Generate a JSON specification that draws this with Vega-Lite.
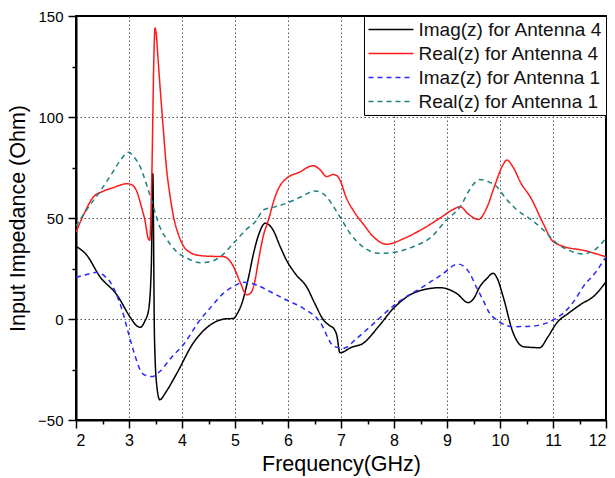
{
  "$schema": "https://vega.github.io/schema/vega-lite/v6.json",
  "width": 530,
  "height": 404,
  "autosize": "none",
  "padding": {"left": 76, "top": 16, "right": 9, "bottom": 58},
  "background": "white",
  "config": {
    "view": {"stroke": "black", "strokeWidth": 2},
    "font": "Liberation Sans",
    "axis": {
      "domainColor": "black",
      "domainWidth": 2,
      "tickColor": "black",
      "tickWidth": 1.5,
      "labelColor": "black",
      "titleColor": "black",
      "titleFontWeight": "normal",
      "labelFont": "Liberation Sans",
      "titleFont": "Liberation Sans",
      "gridColor": "#555555",
      "gridDash": [1.5, 2.5],
      "gridWidth": 1
    },
    "legend": {
      "orient": "top-right",
      "offset": 0,
      "strokeColor": "black",
      "fillColor": "white",
      "padding": 3.5,
      "labelFont": "Liberation Sans",
      "labelFontSize": 19,
      "labelLimit": 400,
      "labelColor": "#111111",
      "symbolStrokeWidth": 1.5,
      "rowPadding": 4,
      "title": null
    }
  },
  "data": {
    "values": [
      {"f": 2, "v": 36, "s": "Imag(z) for Antenna 4"},
      {"f": 2.2, "v": 31.7, "s": "Imag(z) for Antenna 4"},
      {"f": 2.45, "v": 21, "s": "Imag(z) for Antenna 4"},
      {"f": 2.77, "v": 12, "s": "Imag(z) for Antenna 4"},
      {"f": 3.02, "v": 1, "s": "Imag(z) for Antenna 4"},
      {"f": 3.13, "v": -3, "s": "Imag(z) for Antenna 4"},
      {"f": 3.21, "v": -4.1, "s": "Imag(z) for Antenna 4"},
      {"f": 3.3, "v": -1, "s": "Imag(z) for Antenna 4"},
      {"f": 3.37, "v": 4.5, "s": "Imag(z) for Antenna 4"},
      {"f": 3.42, "v": 25, "s": "Imag(z) for Antenna 4"},
      {"f": 3.45, "v": 72, "s": "Imag(z) for Antenna 4"},
      {"f": 3.48, "v": -8, "s": "Imag(z) for Antenna 4"},
      {"f": 3.52, "v": -32, "s": "Imag(z) for Antenna 4"},
      {"f": 3.58, "v": -40, "s": "Imag(z) for Antenna 4"},
      {"f": 3.7, "v": -36, "s": "Imag(z) for Antenna 4"},
      {"f": 3.9, "v": -27, "s": "Imag(z) for Antenna 4"},
      {"f": 4.21, "v": -12, "s": "Imag(z) for Antenna 4"},
      {"f": 4.59, "v": -2, "s": "Imag(z) for Antenna 4"},
      {"f": 4.8, "v": 0, "s": "Imag(z) for Antenna 4"},
      {"f": 4.97, "v": 0.3, "s": "Imag(z) for Antenna 4"},
      {"f": 5.05, "v": 3, "s": "Imag(z) for Antenna 4"},
      {"f": 5.13, "v": 7.8, "s": "Imag(z) for Antenna 4"},
      {"f": 5.25, "v": 20, "s": "Imag(z) for Antenna 4"},
      {"f": 5.35, "v": 32.5, "s": "Imag(z) for Antenna 4"},
      {"f": 5.45, "v": 42, "s": "Imag(z) for Antenna 4"},
      {"f": 5.57, "v": 47.4, "s": "Imag(z) for Antenna 4"},
      {"f": 5.72, "v": 44, "s": "Imag(z) for Antenna 4"},
      {"f": 5.85, "v": 36, "s": "Imag(z) for Antenna 4"},
      {"f": 5.97, "v": 29.2, "s": "Imag(z) for Antenna 4"},
      {"f": 6.15, "v": 22, "s": "Imag(z) for Antenna 4"},
      {"f": 6.35, "v": 16, "s": "Imag(z) for Antenna 4"},
      {"f": 6.5, "v": 8, "s": "Imag(z) for Antenna 4"},
      {"f": 6.67, "v": -0.5, "s": "Imag(z) for Antenna 4"},
      {"f": 6.8, "v": -3.5, "s": "Imag(z) for Antenna 4"},
      {"f": 6.86, "v": -4.6, "s": "Imag(z) for Antenna 4"},
      {"f": 6.92, "v": -8, "s": "Imag(z) for Antenna 4"},
      {"f": 6.98, "v": -16.7, "s": "Imag(z) for Antenna 4"},
      {"f": 7.2, "v": -14, "s": "Imag(z) for Antenna 4"},
      {"f": 7.42, "v": -12, "s": "Imag(z) for Antenna 4"},
      {"f": 7.7, "v": -4, "s": "Imag(z) for Antenna 4"},
      {"f": 7.99, "v": 5.3, "s": "Imag(z) for Antenna 4"},
      {"f": 8.43, "v": 13.5, "s": "Imag(z) for Antenna 4"},
      {"f": 8.87, "v": 15.5, "s": "Imag(z) for Antenna 4"},
      {"f": 9.18, "v": 12.7, "s": "Imag(z) for Antenna 4"},
      {"f": 9.4, "v": 8.1, "s": "Imag(z) for Antenna 4"},
      {"f": 9.5, "v": 10, "s": "Imag(z) for Antenna 4"},
      {"f": 9.62, "v": 16, "s": "Imag(z) for Antenna 4"},
      {"f": 9.75, "v": 20, "s": "Imag(z) for Antenna 4"},
      {"f": 9.87, "v": 22.6, "s": "Imag(z) for Antenna 4"},
      {"f": 9.95, "v": 20, "s": "Imag(z) for Antenna 4"},
      {"f": 10.06, "v": 11, "s": "Imag(z) for Antenna 4"},
      {"f": 10.25, "v": -7, "s": "Imag(z) for Antenna 4"},
      {"f": 10.44, "v": -13.7, "s": "Imag(z) for Antenna 4"},
      {"f": 10.75, "v": -14.2, "s": "Imag(z) for Antenna 4"},
      {"f": 10.9, "v": -9, "s": "Imag(z) for Antenna 4"},
      {"f": 11.07, "v": -2, "s": "Imag(z) for Antenna 4"},
      {"f": 11.3, "v": 3, "s": "Imag(z) for Antenna 4"},
      {"f": 11.51, "v": 7, "s": "Imag(z) for Antenna 4"},
      {"f": 11.8, "v": 12, "s": "Imag(z) for Antenna 4"},
      {"f": 12, "v": 18.5, "s": "Imag(z) for Antenna 4"},

      {"f": 2, "v": 43, "s": "Real(z) for Antenna 4"},
      {"f": 2.15, "v": 52, "s": "Real(z) for Antenna 4"},
      {"f": 2.33, "v": 60.5, "s": "Real(z) for Antenna 4"},
      {"f": 2.49, "v": 63, "s": "Real(z) for Antenna 4"},
      {"f": 2.7, "v": 65, "s": "Real(z) for Antenna 4"},
      {"f": 2.96, "v": 67, "s": "Real(z) for Antenna 4"},
      {"f": 3.05, "v": 66.5, "s": "Real(z) for Antenna 4"},
      {"f": 3.15, "v": 63, "s": "Real(z) for Antenna 4"},
      {"f": 3.25, "v": 54, "s": "Real(z) for Antenna 4"},
      {"f": 3.3, "v": 49, "s": "Real(z) for Antenna 4"},
      {"f": 3.36, "v": 40, "s": "Real(z) for Antenna 4"},
      {"f": 3.39, "v": 39, "s": "Real(z) for Antenna 4"},
      {"f": 3.43, "v": 70, "s": "Real(z) for Antenna 4"},
      {"f": 3.47, "v": 130, "s": "Real(z) for Antenna 4"},
      {"f": 3.49, "v": 144, "s": "Real(z) for Antenna 4"},
      {"f": 3.51, "v": 142, "s": "Real(z) for Antenna 4"},
      {"f": 3.55, "v": 128, "s": "Real(z) for Antenna 4"},
      {"f": 3.6, "v": 110, "s": "Real(z) for Antenna 4"},
      {"f": 3.65, "v": 93, "s": "Real(z) for Antenna 4"},
      {"f": 3.71, "v": 74, "s": "Real(z) for Antenna 4"},
      {"f": 3.78, "v": 60, "s": "Real(z) for Antenna 4"},
      {"f": 3.84, "v": 50.6, "s": "Real(z) for Antenna 4"},
      {"f": 3.93, "v": 42, "s": "Real(z) for Antenna 4"},
      {"f": 4.03, "v": 36, "s": "Real(z) for Antenna 4"},
      {"f": 4.15, "v": 33, "s": "Real(z) for Antenna 4"},
      {"f": 4.34, "v": 31.4, "s": "Real(z) for Antenna 4"},
      {"f": 4.6, "v": 31, "s": "Real(z) for Antenna 4"},
      {"f": 4.78, "v": 30.9, "s": "Real(z) for Antenna 4"},
      {"f": 4.88, "v": 29.5, "s": "Real(z) for Antenna 4"},
      {"f": 4.97, "v": 26, "s": "Real(z) for Antenna 4"},
      {"f": 5.1, "v": 18, "s": "Real(z) for Antenna 4"},
      {"f": 5.22, "v": 12, "s": "Real(z) for Antenna 4"},
      {"f": 5.3, "v": 13, "s": "Real(z) for Antenna 4"},
      {"f": 5.36, "v": 17, "s": "Real(z) for Antenna 4"},
      {"f": 5.45, "v": 30, "s": "Real(z) for Antenna 4"},
      {"f": 5.53, "v": 40.7, "s": "Real(z) for Antenna 4"},
      {"f": 5.63, "v": 49, "s": "Real(z) for Antenna 4"},
      {"f": 5.75, "v": 60, "s": "Real(z) for Antenna 4"},
      {"f": 5.85, "v": 66, "s": "Real(z) for Antenna 4"},
      {"f": 5.97, "v": 69.6, "s": "Real(z) for Antenna 4"},
      {"f": 6.2, "v": 72.5, "s": "Real(z) for Antenna 4"},
      {"f": 6.48, "v": 75.9, "s": "Real(z) for Antenna 4"},
      {"f": 6.6, "v": 74, "s": "Real(z) for Antenna 4"},
      {"f": 6.73, "v": 70.5, "s": "Real(z) for Antenna 4"},
      {"f": 6.85, "v": 71.5, "s": "Real(z) for Antenna 4"},
      {"f": 6.92, "v": 71, "s": "Real(z) for Antenna 4"},
      {"f": 6.98, "v": 68.8, "s": "Real(z) for Antenna 4"},
      {"f": 7.1, "v": 60, "s": "Real(z) for Antenna 4"},
      {"f": 7.25, "v": 53, "s": "Real(z) for Antenna 4"},
      {"f": 7.42, "v": 47, "s": "Real(z) for Antenna 4"},
      {"f": 7.6, "v": 41, "s": "Real(z) for Antenna 4"},
      {"f": 7.86, "v": 37, "s": "Real(z) for Antenna 4"},
      {"f": 8.2, "v": 40, "s": "Real(z) for Antenna 4"},
      {"f": 8.5, "v": 44, "s": "Real(z) for Antenna 4"},
      {"f": 8.87, "v": 50, "s": "Real(z) for Antenna 4"},
      {"f": 9.1, "v": 54, "s": "Real(z) for Antenna 4"},
      {"f": 9.25, "v": 55.6, "s": "Real(z) for Antenna 4"},
      {"f": 9.4, "v": 52, "s": "Real(z) for Antenna 4"},
      {"f": 9.59, "v": 49.3, "s": "Real(z) for Antenna 4"},
      {"f": 9.75, "v": 55, "s": "Real(z) for Antenna 4"},
      {"f": 9.9, "v": 66, "s": "Real(z) for Antenna 4"},
      {"f": 10.05, "v": 76, "s": "Real(z) for Antenna 4"},
      {"f": 10.13, "v": 78.7, "s": "Real(z) for Antenna 4"},
      {"f": 10.25, "v": 75, "s": "Real(z) for Antenna 4"},
      {"f": 10.4, "v": 67, "s": "Real(z) for Antenna 4"},
      {"f": 10.57, "v": 60.5, "s": "Real(z) for Antenna 4"},
      {"f": 10.82, "v": 47, "s": "Real(z) for Antenna 4"},
      {"f": 10.98, "v": 39, "s": "Real(z) for Antenna 4"},
      {"f": 11.19, "v": 36, "s": "Real(z) for Antenna 4"},
      {"f": 11.57, "v": 34, "s": "Real(z) for Antenna 4"},
      {"f": 12, "v": 30.8, "s": "Real(z) for Antenna 4"},

      {"f": 2, "v": 20.6, "s": "Imaz(z) for Antenna 1"},
      {"f": 2.2, "v": 22, "s": "Imaz(z) for Antenna 1"},
      {"f": 2.39, "v": 23.1, "s": "Imaz(z) for Antenna 1"},
      {"f": 2.55, "v": 21, "s": "Imaz(z) for Antenna 1"},
      {"f": 2.64, "v": 18.5, "s": "Imaz(z) for Antenna 1"},
      {"f": 2.75, "v": 13, "s": "Imaz(z) for Antenna 1"},
      {"f": 2.86, "v": 5.3, "s": "Imaz(z) for Antenna 1"},
      {"f": 2.99, "v": -7.1, "s": "Imaz(z) for Antenna 1"},
      {"f": 3.1, "v": -17, "s": "Imaz(z) for Antenna 1"},
      {"f": 3.21, "v": -25.2, "s": "Imaz(z) for Antenna 1"},
      {"f": 3.32, "v": -28, "s": "Imaz(z) for Antenna 1"},
      {"f": 3.43, "v": -28.5, "s": "Imaz(z) for Antenna 1"},
      {"f": 3.58, "v": -26, "s": "Imaz(z) for Antenna 1"},
      {"f": 3.8, "v": -19, "s": "Imaz(z) for Antenna 1"},
      {"f": 4.02, "v": -12.9, "s": "Imaz(z) for Antenna 1"},
      {"f": 4.34, "v": -0.5, "s": "Imaz(z) for Antenna 1"},
      {"f": 4.55, "v": 6, "s": "Imaz(z) for Antenna 1"},
      {"f": 4.78, "v": 12.7, "s": "Imaz(z) for Antenna 1"},
      {"f": 5.0, "v": 16.5, "s": "Imaz(z) for Antenna 1"},
      {"f": 5.16, "v": 18.2, "s": "Imaz(z) for Antenna 1"},
      {"f": 5.41, "v": 16.8, "s": "Imaz(z) for Antenna 1"},
      {"f": 5.7, "v": 13, "s": "Imaz(z) for Antenna 1"},
      {"f": 5.97, "v": 9.4, "s": "Imaz(z) for Antenna 1"},
      {"f": 6.29, "v": 5.3, "s": "Imaz(z) for Antenna 1"},
      {"f": 6.6, "v": -1.3, "s": "Imaz(z) for Antenna 1"},
      {"f": 6.86, "v": -13.4, "s": "Imaz(z) for Antenna 1"},
      {"f": 7.04, "v": -14.5, "s": "Imaz(z) for Antenna 1"},
      {"f": 7.3, "v": -9.5, "s": "Imaz(z) for Antenna 1"},
      {"f": 7.55, "v": -3.8, "s": "Imaz(z) for Antenna 1"},
      {"f": 8.05, "v": 7.8, "s": "Imaz(z) for Antenna 1"},
      {"f": 8.55, "v": 16, "s": "Imaz(z) for Antenna 1"},
      {"f": 8.9, "v": 22, "s": "Imaz(z) for Antenna 1"},
      {"f": 9.21, "v": 27.2, "s": "Imaz(z) for Antenna 1"},
      {"f": 9.32, "v": 26, "s": "Imaz(z) for Antenna 1"},
      {"f": 9.43, "v": 22.6, "s": "Imaz(z) for Antenna 1"},
      {"f": 9.55, "v": 16, "s": "Imaz(z) for Antenna 1"},
      {"f": 9.68, "v": 9.4, "s": "Imaz(z) for Antenna 1"},
      {"f": 9.8, "v": 3, "s": "Imaz(z) for Antenna 1"},
      {"f": 9.94, "v": -0.5, "s": "Imaz(z) for Antenna 1"},
      {"f": 10.25, "v": -3.8, "s": "Imaz(z) for Antenna 1"},
      {"f": 10.5, "v": -3.7, "s": "Imaz(z) for Antenna 1"},
      {"f": 10.82, "v": -2.5, "s": "Imaz(z) for Antenna 1"},
      {"f": 11.0, "v": -0.5, "s": "Imaz(z) for Antenna 1"},
      {"f": 11.19, "v": 2.8, "s": "Imaz(z) for Antenna 1"},
      {"f": 11.4, "v": 9, "s": "Imaz(z) for Antenna 1"},
      {"f": 11.57, "v": 16, "s": "Imaz(z) for Antenna 1"},
      {"f": 11.8, "v": 23, "s": "Imaz(z) for Antenna 1"},
      {"f": 12, "v": 30.8, "s": "Imaz(z) for Antenna 1"},

      {"f": 2, "v": 46, "s": "Real(z) for Antenna 1"},
      {"f": 2.2, "v": 54, "s": "Real(z) for Antenna 1"},
      {"f": 2.45, "v": 63, "s": "Real(z) for Antenna 1"},
      {"f": 2.7, "v": 73, "s": "Real(z) for Antenna 1"},
      {"f": 2.85, "v": 79, "s": "Real(z) for Antenna 1"},
      {"f": 2.99, "v": 82.5, "s": "Real(z) for Antenna 1"},
      {"f": 3.1, "v": 80, "s": "Real(z) for Antenna 1"},
      {"f": 3.21, "v": 75.4, "s": "Real(z) for Antenna 1"},
      {"f": 3.35, "v": 65, "s": "Real(z) for Antenna 1"},
      {"f": 3.46, "v": 55.6, "s": "Real(z) for Antenna 1"},
      {"f": 3.58, "v": 45.7, "s": "Real(z) for Antenna 1"},
      {"f": 3.7, "v": 40, "s": "Real(z) for Antenna 1"},
      {"f": 3.9, "v": 33.3, "s": "Real(z) for Antenna 1"},
      {"f": 4.1, "v": 30, "s": "Real(z) for Antenna 1"},
      {"f": 4.34, "v": 27.9, "s": "Real(z) for Antenna 1"},
      {"f": 4.55, "v": 28.5, "s": "Real(z) for Antenna 1"},
      {"f": 4.72, "v": 30.8, "s": "Real(z) for Antenna 1"},
      {"f": 5.0, "v": 38.3, "s": "Real(z) for Antenna 1"},
      {"f": 5.2, "v": 44, "s": "Real(z) for Antenna 1"},
      {"f": 5.41, "v": 49, "s": "Real(z) for Antenna 1"},
      {"f": 5.53, "v": 54, "s": "Real(z) for Antenna 1"},
      {"f": 5.75, "v": 55.5, "s": "Real(z) for Antenna 1"},
      {"f": 5.97, "v": 57.3, "s": "Real(z) for Antenna 1"},
      {"f": 6.25, "v": 60.5, "s": "Real(z) for Antenna 1"},
      {"f": 6.51, "v": 63.4, "s": "Real(z) for Antenna 1"},
      {"f": 6.73, "v": 60.5, "s": "Real(z) for Antenna 1"},
      {"f": 6.85, "v": 56, "s": "Real(z) for Antenna 1"},
      {"f": 6.98, "v": 50.6, "s": "Real(z) for Antenna 1"},
      {"f": 7.17, "v": 42.4, "s": "Real(z) for Antenna 1"},
      {"f": 7.4, "v": 36, "s": "Real(z) for Antenna 1"},
      {"f": 7.74, "v": 32.5, "s": "Real(z) for Antenna 1"},
      {"f": 8.0, "v": 33, "s": "Real(z) for Antenna 1"},
      {"f": 8.36, "v": 35.8, "s": "Real(z) for Antenna 1"},
      {"f": 8.7, "v": 40.5, "s": "Real(z) for Antenna 1"},
      {"f": 8.99, "v": 49, "s": "Real(z) for Antenna 1"},
      {"f": 9.25, "v": 55.6, "s": "Real(z) for Antenna 1"},
      {"f": 9.45, "v": 65, "s": "Real(z) for Antenna 1"},
      {"f": 9.62, "v": 69, "s": "Real(z) for Antenna 1"},
      {"f": 9.78, "v": 68, "s": "Real(z) for Antenna 1"},
      {"f": 9.94, "v": 65.5, "s": "Real(z) for Antenna 1"},
      {"f": 10.1, "v": 60, "s": "Real(z) for Antenna 1"},
      {"f": 10.32, "v": 54, "s": "Real(z) for Antenna 1"},
      {"f": 10.6, "v": 49, "s": "Real(z) for Antenna 1"},
      {"f": 10.82, "v": 44, "s": "Real(z) for Antenna 1"},
      {"f": 11.07, "v": 37.5, "s": "Real(z) for Antenna 1"},
      {"f": 11.3, "v": 34, "s": "Real(z) for Antenna 1"},
      {"f": 11.57, "v": 32.2, "s": "Real(z) for Antenna 1"},
      {"f": 11.8, "v": 34.5, "s": "Real(z) for Antenna 1"},
      {"f": 12, "v": 40, "s": "Real(z) for Antenna 1"}
    ]
  },
  "mark": {"type": "line", "interpolate": "monotone", "strokeWidth": 1.5, "clip": true},
  "encoding": {
    "x": {
      "field": "f",
      "type": "quantitative",
      "scale": {"domain": [2, 12], "nice": false, "zero": false},
      "axis": {
        "title": "Frequency(GHz)",
        "titleFontSize": 21.5,
        "titlePadding": 5,
        "values": [2, 2.5, 3, 3.5, 4, 4.5, 5, 5.5, 6, 6.5, 7, 7.5, 8, 8.5, 9, 9.5, 10, 10.5, 11, 11.5, 12],
        "labelExpr": "datum.value % 1 === 0 ? format(datum.value, 'd') : ''",
        "labelFontSize": 16,
        "labelPadding": 4,
        "tickSize": {"condition": {"test": "datum.value % 1 === 0", "value": 8}, "value": 4},
        "grid": true,
        "gridOpacity": {"condition": {"test": "datum.value % 1 === 0 && datum.value > 2 && datum.value < 12", "value": 1}, "value": 0}
      }
    },
    "y": {
      "field": "v",
      "type": "quantitative",
      "scale": {"domain": [-50, 150], "nice": false, "zero": false},
      "axis": {
        "title": "Input  Impedance (Ohm)",
        "titleFontSize": 21.5,
        "titleAngle": -90,
        "titleAlign": "center",
        "titleBaseline": "alphabetic",
        "titleX": -52,
        "titleY": 202,
        "values": [-50, -25, 0, 25, 50, 75, 100, 125, 150],
        "labelExpr": "datum.value % 50 === 0 ? format(datum.value, 'd') : ''",
        "labelFontSize": 15,
        "labelPadding": 5,
        "tickSize": {"condition": {"test": "datum.value % 50 === 0", "value": 8}, "value": 4},
        "grid": true,
        "gridOpacity": {"condition": {"test": "datum.value % 50 === 0 && datum.value > -50 && datum.value < 150", "value": 1}, "value": 0}
      }
    },
    "color": {
      "field": "s",
      "type": "nominal",
      "scale": {
        "domain": ["Imag(z) for Antenna 4", "Real(z) for Antenna 4", "Imaz(z) for Antenna 1", "Real(z) for Antenna 1"],
        "range": ["#000000", "#ff1a1a", "#2828ff", "#1f8080"]
      },
      "legend": {
        "symbolType": "M-1,0H4",
        "symbolSize": 324,
        "labelOffset": 31
      }
    },
    "strokeDash": {
      "field": "s",
      "type": "nominal",
      "scale": {
        "domain": ["Imag(z) for Antenna 4", "Real(z) for Antenna 4", "Imaz(z) for Antenna 1", "Real(z) for Antenna 1"],
        "range": [[1, 0], [1, 0], [5, 4], [5, 4]]
      },
      "legend": {
        "symbolType": "M-1,0H4",
        "symbolSize": 324,
        "labelOffset": 31
      }
    }
  }
}
